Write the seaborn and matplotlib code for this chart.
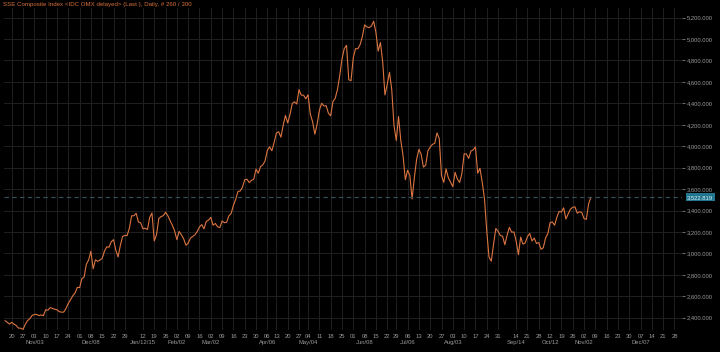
import pandas as pd
import matplotlib
matplotlib.use("Agg")
import matplotlib.pyplot as plt
import matplotlib.transforms as mtransforms
import seaborn as sns

# ==========================
# data: SSE Composite daily closes
# ==========================
close_2014_10 = [2373.0, 2356.5, 2341.2, 2356.4, 2339.7, 2326.6, 2302.4, 2302.3, 2290.4,
                 2337.9, 2373.0, 2391.1, 2420.2]
close_2014_11 = [2430.0, 2430.7, 2419.2, 2425.9, 2418.2, 2473.7, 2469.7, 2494.5, 2485.6,
                 2478.8, 2474.0, 2456.4, 2451.0, 2452.7, 2486.8, 2532.9, 2567.6, 2604.4,
                 2630.5, 2682.8]
close_2014_12 = [2680.2, 2763.5, 2779.5, 2899.5, 2937.7, 3020.3, 2856.3, 2940.0, 2925.7,
                 2938.2, 2953.4, 3021.5, 3061.0, 3057.5, 3108.6, 3128.0, 3032.6, 2966.5,
                 3073.0, 3157.6, 3168.0, 3165.8, 3234.7]
close_2015_01 = [3350.5, 3351.4, 3373.9, 3293.5, 3285.4, 3229.3, 3235.3, 3222.4, 3336.5,
                 3376.5, 3116.4, 3173.1, 3323.6, 3343.3, 3351.8, 3383.2, 3352.4, 3305.7,
                 3262.3, 3210.4]
close_2015_02 = [3128.3, 3204.9, 3174.1, 3136.5, 3075.9, 3095.1, 3141.6, 3157.7, 3173.4,
                 3203.8, 3246.9, 3268.6, 3228.8, 3298.4, 3310.3]
close_2015_03 = [3336.3, 3263.1, 3279.5, 3248.5, 3241.2, 3302.4, 3286.1, 3290.9, 3349.3,
                 3372.9, 3449.3, 3502.9, 3577.3, 3582.3, 3617.3, 3687.7, 3691.4, 3660.7,
                 3682.1, 3691.1, 3786.6, 3747.9]
close_2015_04 = [3810.3, 3825.8, 3863.9, 3961.4, 3994.8, 3957.5, 4034.3, 4121.7, 4135.6,
                 4084.2, 4194.8, 4287.3, 4217.1, 4293.6, 4398.5, 4414.5, 4393.7, 4527.4,
                 4476.6, 4476.2, 4441.7]
close_2015_05 = [4480.5, 4298.7, 4229.3, 4112.2, 4205.9, 4333.6, 4401.2, 4375.8, 4378.3,
                 4308.7, 4283.5, 4417.6, 4446.3, 4529.4, 4657.6, 4813.8, 4910.9, 4941.7,
                 4620.3, 4611.7]
close_2015_06 = [4828.7, 4910.5, 4910.0, 4947.1, 5023.1, 5131.9, 5113.5, 5106.0, 5121.6,
                 5166.4, 5063.0, 4887.4, 4967.9, 4785.4, 4478.4, 4576.5, 4690.2, 4527.8,
                 4192.9, 4053.0, 4277.2]
close_2015_07 = [4053.7, 3912.8, 3686.9, 3775.9, 3727.1, 3507.2, 3709.3, 3877.8, 3970.4,
                 3924.5, 3805.7, 3823.2, 3957.4, 3992.1, 4017.7, 4026.0, 4123.9, 4070.9,
                 3725.6, 3663.0, 3789.2, 3705.8, 3663.7]
close_2015_08 = [3622.9, 3756.5, 3694.6, 3661.5, 3744.2, 3928.4, 3927.9, 3886.3, 3954.6,
                 3965.3, 3993.7, 3748.2, 3794.1, 3664.3, 3507.7, 3209.9, 2965.0, 2927.3,
                 3084.0, 3232.4, 3206.0]
close_2015_09 = [3166.6, 3160.2, 3080.4, 3170.4, 3243.1, 3197.9, 3200.2, 3114.8, 2988.7,
                 3152.3, 3086.1, 3097.9, 3156.5, 3185.6, 3115.9, 3142.7, 3092.4, 3100.8,
                 3038.1, 3052.8]
close_2015_10 = [3143.4, 3183.2, 3287.7, 3293.2, 3262.4, 3338.1, 3391.4, 3386.7, 3425.3,
                 3320.7, 3368.7, 3412.4, 3429.6, 3434.3, 3375.2, 3387.3, 3382.6]
close_2015_11 = [3325.1, 3316.7, 3459.6, 3522.819]

# exchange holidays (weekdays with no trading)
holidays = ["2015-01-01", "2015-01-02", "2015-02-18", "2015-02-19", "2015-02-20",
            "2015-02-23", "2015-02-24", "2015-04-06", "2015-05-01", "2015-06-22",
            "2015-09-03", "2015-09-04", "2015-10-01", "2015-10-02", "2015-10-05",
            "2015-10-06", "2015-10-07"]

# weekly tick labels (week start) and month labels
week_ticks = ["2014-10-20", "2014-10-27", "2014-11-03", "2014-11-10", "2014-11-17",
              "2014-11-24", "2014-12-01", "2014-12-08", "2014-12-15", "2014-12-22",
              "2014-12-29", "2015-01-12", "2015-01-19", "2015-01-26", "2015-02-02",
              "2015-02-09", "2015-02-16", "2015-03-02", "2015-03-09", "2015-03-16",
              "2015-03-23", "2015-03-30", "2015-04-06", "2015-04-13", "2015-04-20",
              "2015-04-27", "2015-05-04", "2015-05-11", "2015-05-18", "2015-05-25",
              "2015-06-01", "2015-06-08", "2015-06-15", "2015-06-22", "2015-06-29",
              "2015-07-06", "2015-07-13", "2015-07-20", "2015-07-27", "2015-08-03",
              "2015-08-10", "2015-08-17", "2015-08-24", "2015-08-31", "2015-09-14",
              "2015-09-21", "2015-09-28", "2015-10-12", "2015-10-19", "2015-10-26",
              "2015-11-02", "2015-11-09", "2015-11-16", "2015-11-23", "2015-11-30",
              "2015-12-07", "2015-12-14", "2015-12-21", "2015-12-28"]
month_ticks = ["2014-11-03", "2014-12-08", "2015-01-12", "2015-02-02", "2015-03-02",
               "2015-04-06", "2015-05-04", "2015-06-08", "2015-07-06", "2015-08-03",
               "2015-09-14", "2015-10-12", "2015-11-02", "2015-12-07"]
month_labels = ["Nov/03", "Dec/08", "Jan/12/15", "Feb/02", "Mar/02", "Apr/06", "May/04",
                "Jun/08", "Jul/06", "Aug/03", "Sep/14", "Oct/12", "Nov/02", "Dec/07"]

y_ticks = [2400, 2600, 2800, 3000, 3200, 3400, 3600, 3800, 4000, 4200, 4400, 4600,
           4800, 5000, 5200]
title = "SSE Composite Index <IDC OMX delayed> (Last ), Daily, # 260 / 300"

# ==========================
# trading calendar -> x index
# ==========================
calendar = pd.bdate_range("2014-10-15", "2015-12-31")
calendar = calendar[~calendar.isin(pd.to_datetime(holidays))]

closes = (close_2014_10 + close_2014_11 + close_2014_12 + close_2015_01 + close_2015_02
          + close_2015_03 + close_2015_04 + close_2015_05 + close_2015_06 + close_2015_07
          + close_2015_08 + close_2015_09 + close_2015_10 + close_2015_11)
df = pd.DataFrame({"day": range(len(closes)), "close": closes})
last = closes[-1]

week_pos = calendar.searchsorted(pd.to_datetime(week_ticks))
month_pos = calendar.searchsorted(pd.to_datetime(month_ticks))
week_lbl = [pd.Timestamp(d).strftime("%d") for d in week_ticks]

# ==========================
# style
# ==========================
sns.set_theme(style="darkgrid", rc={
    "axes.facecolor": "black",
    "figure.facecolor": "black",
    "grid.color": "#202020",
    "grid.linewidth": 0.7,
})
plt.rcParams["font.family"] = ["Liberation Sans", "DejaVu Sans"]

fig = plt.figure(figsize=(7.2, 3.52), dpi=100)
ax = fig.add_axes([0.0053, 0.0625, 0.9425, 0.9148])

sns.lineplot(data=df, x="day", y="close", ax=ax, color="#dc7540", linewidth=0.8)

ax.axhline(last, color="#39505f", linewidth=0.8, dashes=(4, 3))

ax.set_xlim(-0.5, len(calendar) - 0.5)
ax.set_ylim(2285, 5290)

ax.set_xticks(week_pos)
ax.set_xticklabels(week_lbl)
ax.set_yticks(y_ticks)
ax.set_yticklabels([f"{v:,.3f}" for v in y_ticks])
ax.yaxis.tick_right()
ax.tick_params(axis="both", colors="#9a9a9a", labelsize=4.2, length=2, width=0.5, pad=1)
ax.set_xlabel("")
ax.set_ylabel("")
for s in ax.spines.values():
    s.set_visible(False)

trans = mtransforms.blended_transform_factory(ax.transData, ax.transAxes)
for p, lbl in zip(month_pos, month_labels):
    ax.text(p, -0.04, lbl, transform=trans, ha="center", va="center",
            fontsize=4.2, color="#9a9a9a")

trans_y = mtransforms.blended_transform_factory(ax.transAxes, ax.transData)
ax.text(1.007, last, f"{last:,.3f}", transform=trans_y, ha="left", va="center",
        fontsize=4.2, color="#d8eef5",
        bbox=dict(boxstyle="square,pad=0.25", fc="#22758f", ec="none"))

fig.text(0.004, 1 - 4.5 / 352, title, ha="left", va="center",
         fontsize=4.4, color="#d8703a")

fig.savefig("out.png", dpi=100, facecolor="black")
